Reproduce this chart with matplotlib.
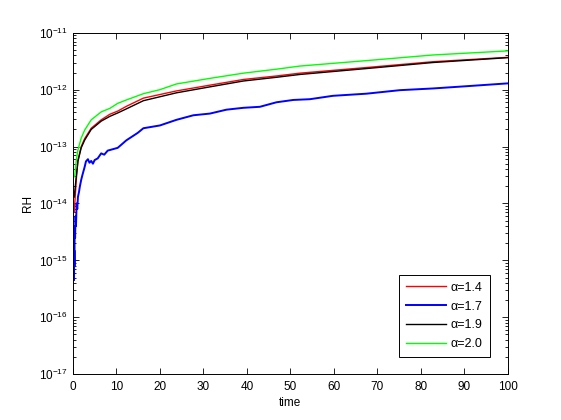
import numpy as np
import matplotlib
matplotlib.use('Agg')
import matplotlib.pyplot as plt

# values
t_14 = [0.3, 0.77, 1.15, 1.9, 2.7, 4.2, 6.5, 8.5, 10.3, 12.3, 16.2, 23.8, 31.5, 39.2, 46.8, 52.2, 67.5, 82.8, 100]
rh_14 = [7e-15, 2.6e-14, 5.75e-14, 1.0e-13, 1.38e-13, 2.1e-13, 2.95e-13, 3.7e-13, 4.2e-13, 5.1e-13,
         7.1e-13, 9.5e-13, 1.2e-12, 1.51e-12, 1.74e-12, 1.95e-12, 2.45e-12, 3.1e-12, 3.7e-12]

t_17 = [0.15, 0.25, 0.3, 0.35, 0.4, 0.5, 0.6, 0.7, 0.85, 1.0, 1.15, 1.4, 1.6, 1.9, 2.2, 2.7, 3.0, 3.45,
        3.8, 4.2, 4.6, 5.0, 5.7, 6.5, 7.2, 8.0, 8.5, 10.3, 12.3, 14.9, 16.2, 20, 23.8, 27.7, 31.5, 35.3,
        39.2, 43, 46.8, 50.7, 54.5, 59.8, 67.5, 75.2, 82.8, 90.5, 100]
rh_17 = [3e-15, 4.5e-16, 1.5e-15, 8e-16, 4e-15, 2.5e-15, 6e-15, 4e-15, 1e-14, 8e-15, 1.3e-14, 1.6e-14,
         2.0e-14, 2.6e-14, 3.2e-14, 4.4e-14, 5.5e-14, 6.0e-14, 5.2e-14, 5.6e-14, 5.0e-14, 5.8e-14, 6.2e-14,
         7.6e-14, 7.2e-14, 8.5e-14, 8.7e-14, 9.5e-14, 1.29e-13, 1.74e-13, 2.1e-13, 2.35e-13, 2.95e-13,
         3.55e-13, 3.8e-13, 4.45e-13, 4.8e-13, 5.0e-13, 6.0e-13, 6.6e-13, 6.8e-13, 7.8e-13, 8.5e-13,
         9.8e-13, 1.05e-12, 1.15e-12, 1.29e-12]

t_19 = [0.3, 0.77, 1.15, 1.9, 2.7, 4.2, 6.5, 8.5, 10.3, 12.3, 16.2, 23.8, 31.5, 39.2, 46.8, 52.2, 67.5, 82.8, 100]
rh_19 = [1.3e-14, 3.0e-14, 5.5e-14, 9.5e-14, 1.3e-13, 2.0e-13, 2.8e-13, 3.4e-13, 3.9e-13, 4.6e-13,
         6.4e-13, 8.8e-13, 1.12e-12, 1.42e-12, 1.65e-12, 1.85e-12, 2.35e-12, 3.0e-12, 3.65e-12]

t_20 = [0.4, 0.77, 1.15, 1.9, 2.7, 4.2, 6.5, 8.5, 10.3, 12.3, 16.2, 20, 23.8, 31.5, 39.2, 46.8, 52.2, 67.5, 82.8, 100]
rh_20 = [2.95e-14, 5.75e-14, 8.7e-14, 1.41e-13, 1.95e-13, 2.95e-13, 4.07e-13, 4.7e-13, 5.75e-13, 6.6e-13,
         8.5e-13, 1.0e-12, 1.26e-12, 1.58e-12, 1.95e-12, 2.29e-12, 2.6e-12, 3.24e-12, 4.07e-12, 4.8e-12]

y_exps = [-17, -16, -15, -14, -13, -12, -11]

plt.rcParams['font.family'] = ['Liberation Sans', 'DejaVu Sans']
plt.rcParams['font.size'] = 8.5
plt.rcParams['mathtext.fontset'] = 'custom'
plt.rcParams['mathtext.rm'] = 'Liberation Sans'

fig = plt.figure(figsize=(5.61, 4.2), dpi=100)
ax = fig.add_axes([0.130, 0.109, 0.775, 0.813])

ax.plot(t_14, rh_14, color='red', lw=1, label='α=1.4')
ax.plot(t_17, rh_17, color='blue', lw=1.4, label='α=1.7')
ax.plot(t_19, rh_19, color='black', lw=1, label='α=1.9')
ax.plot(t_20, rh_20, color='#00ff00', lw=1, label='α=2.0')

ax.set_yscale('log')
ax.set_xlim(0, 100)
ax.set_ylim(1e-17, 1e-11)
ax.set_xticks(np.arange(0, 101, 10))
ax.set_yticks([10.0 ** e for e in y_exps])
ax.set_yticklabels([r'$10^{%d}$' % e for e in y_exps])
ax.tick_params(which='both', direction='in', top=True, right=True, width=0.6)
ax.tick_params(which='major', length=4)
ax.tick_params(which='minor', length=2)
ax.tick_params(axis='x', pad=5)
for s in ax.spines.values():
    s.set_linewidth(0.7)

ax.set_xlabel('time', labelpad=3)
ax.set_ylabel('RH', labelpad=4)

leg = ax.legend(loc='lower right', bbox_to_anchor=(1 - 18 / 435, 17 / 342), borderaxespad=0,
                fancybox=False, edgecolor='black', framealpha=1, handlelength=3.2,
                handletextpad=0.4, fontsize=9, borderpad=0.55, labelspacing=0.55)
leg.get_frame().set_linewidth(0.7)

fig.savefig('out.png', dpi=100)
